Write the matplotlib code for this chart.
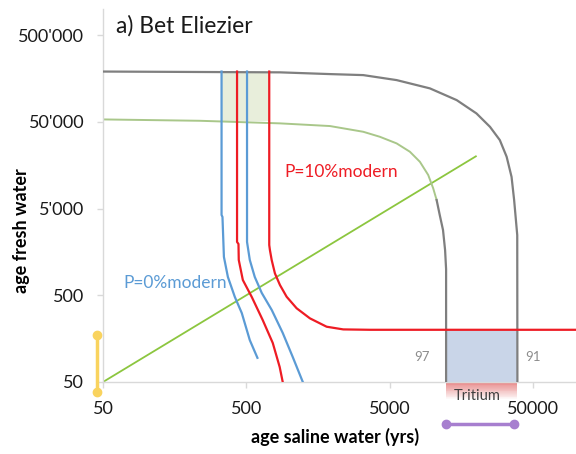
import numpy as np
import matplotlib.pyplot as plt
from matplotlib.transforms import blended_transform_factory
from matplotlib.patches import Rectangle

plt.rcParams['font.family'] = ['Lato', 'DejaVu Sans']

# outer gray curve (saline age vs fresh age)
gray_x = [50, 860, 1918, 3275, 5600, 9560, 14700, 20200, 25100, 29400, 32800, 35500, 37000, 38900, 39000]
gray_y = [190000, 186000, 177600, 172900, 151400, 121500, 89000, 62500, 43800, 30800, 19800, 11600, 6270, 2470, 50]

# inner light green curve, continued in gray below the bend
green_x = [50, 238, 859, 1918, 3275, 4280, 5600, 6930, 8140, 9300, 10080, 10650]
green_y = [53300, 51400, 48000, 44700, 38400, 33600, 28200, 22600, 17300, 12200, 8550, 6270]
green_tail_x = [10650, 11200, 11800, 12200, 12400, 12400]
green_tail_y = [6270, 4200, 2830, 1660, 1000, 50]

# 1:1 line
diag_x = [50, 20000]
diag_y = [50, 20000]

# P = 0 % modern
blue1_x = [336, 336, 341, 349, 372, 416, 465, 529, 598]
blue1_y = [190000, 4220, 4000, 1384, 813, 478, 312, 152, 95]
blue2_x = [506, 506, 529, 573, 641, 753, 898, 1055, 1240]
blue2_y = [190000, 2060, 1277, 813, 532, 338, 184, 97, 50]

# P = 10 % modern
red1_x = [431, 431, 441, 443, 473, 546, 651, 765, 855, 898]
red1_y = [190000, 2060, 1950, 1277, 750, 478, 259, 141, 74.5, 50]
red2_x = [723, 723, 731, 752, 792, 859, 956, 1123, 1390, 1818, 2375, 3645, 100000]
red2_y = [190000, 1900, 1660, 1275, 895, 656, 481, 354, 271, 217, 202, 200, 200]

# shaded ranges
green_box_x = [336, 723]
green_box_y = [50500, 190000]
tritium_x = [12400, 39000]
tritium_y = [50, 200]

# ranges marked outside the axes
yellow_range = [38, 174]
purple_range = [12400, 37200]

x_ticks = [50, 500, 5000, 50000]
x_labels = ["50", "500", "5000", "50000"]
y_ticks = [50, 500, 5000, 50000, 500000]
y_labels = ["50", "500", "5'000", "50'000", "500'000"]

fig = plt.figure(figsize=(5.76, 4.54), dpi=100)
ax = fig.add_axes([103 / 576, 1 - 382 / 454, 473 / 576, 373 / 454])
ax.set_xscale("log")
ax.set_yscale("log")
ax.set_xlim(50, 100000)
ax.set_ylim(50, 1000000)

ax.fill_between(green_box_x, green_box_y[0], green_box_y[1], color='#e8eedb', lw=0, zorder=1)
ax.fill_between(tritium_x, tritium_y[0], tritium_y[1], color='#c9d5e8', lw=0, zorder=1)

ax.plot(diag_x, diag_y, color='#8cc63f', lw=1.3, zorder=2)
ax.plot(green_x, green_y, color='#a9c78a', lw=1.4, zorder=2)
ax.plot(green_tail_x, green_tail_y, color='#7f7f7f', lw=1.6, zorder=3)
ax.plot(gray_x, gray_y, color='#7f7f7f', lw=1.6, zorder=3)
ax.plot(blue1_x, blue1_y, color='#5b9bd5', lw=1.6, zorder=4)
ax.plot(blue2_x, blue2_y, color='#5b9bd5', lw=1.6, zorder=4)
ax.plot(red1_x, red1_y, color='#ee1c24', lw=1.6, zorder=4)
ax.plot(red2_x, red2_y, color='#ee1c24', lw=1.6, zorder=4)

ax.set_xticks(x_ticks)
ax.set_xticklabels(x_labels)
ax.set_yticks(y_ticks)
ax.set_yticklabels(y_labels)
ax.minorticks_off()
ax.tick_params(axis='both', colors='#d9d9d9', labelcolor='#1a1a1a', labelsize=13, length=4.5, width=1, pad=9)

for side in ['top', 'right']:
    ax.spines[side].set_visible(False)
for side in ['left', 'bottom']:
    ax.spines[side].set_color('#d9d9d9')
    ax.spines[side].set_linewidth(1)

ax.set_xlabel("age saline water (yrs)", fontsize=13, fontweight='bold')
ax.set_ylabel("age fresh water", fontsize=13, fontweight='bold')
ax.xaxis.set_label_coords(0.49, -0.122)
ax.yaxis.set_label_coords(-0.154, 0.407)

ax.text(0.0275, 0.954, "a) Bet Eliezier", transform=ax.transAxes, fontsize=16.5, va='center', ha='left', color='#1a1a1a')
ax.text(915, 13200, "P=10%modern", color='#ee1c24', fontsize=12.5, va='center', ha='left')
ax.text(69, 692, "P=0%modern", color='#5b9bd5', fontsize=12.5, va='center', ha='left')
ax.text(8360, 97, "97", color='#8c8c8c', fontsize=9.5, va='center', ha='center')
ax.text(50000, 97, "91", color='#8c8c8c', fontsize=9.5, va='center', ha='center')

# tritium band below the axis, fading out
trans_x = blended_transform_factory(ax.transData, ax.transAxes)
n = 20
depth = 0.046
for i in range(n):
    ax.add_patch(Rectangle((tritium_x[0], -depth * (i + 1) / n), tritium_x[1] - tritium_x[0], depth / n,
                           transform=trans_x, color='#e06262', alpha=0.75 * (1 - i / n), lw=0, clip_on=False))
ax.text(20500, -0.0375, "Tritium", transform=trans_x, fontsize=10.5, color='#404040', ha='center', va='center')

ax.plot(purple_range, [-0.1126, -0.1126], transform=trans_x, color='#a77fcf', lw=2.5,
        marker='o', markersize=6, clip_on=False)

trans_y = blended_transform_factory(ax.transAxes, ax.transData)
ax.plot([-0.0133, -0.0133], yellow_range, transform=trans_y, color='#f9d35e', lw=2.5,
        marker='o', markersize=6, clip_on=False)

fig.savefig("out.png", dpi=100)
